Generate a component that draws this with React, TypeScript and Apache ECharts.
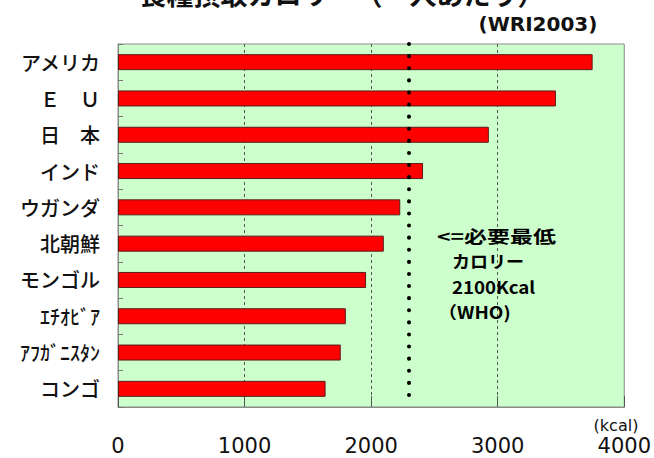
import React, { useEffect, useRef } from 'react';
import * as echarts from 'echarts';

// Daily calorie intake per person, by country (kcal)
const categories = [
  'アメリカ',
  'Ｅ　Ｕ',
  '日　本',
  'インド',
  'ウガンダ',
  '北朝鮮',
  'モンゴル',
  'ｴﾁｵﾋﾞｱ',
  'ｱﾌｶﾞﾆｽﾀﾝ',
  'コンゴ',
];
const calories = [3750, 3460, 2930, 2410, 2230, 2100, 1960, 1800, 1760, 1640];

// x-axis range and step
const axisMin = 0;
const axisMax = 4000;
const axisStep = 1000;

// dotted reference line position
const referenceLine = 2300;

const titleText = '食糧摂取カロリー（一人あたり）';
const sourceText = '(WRI2003)';
const unitText = '(kcal)';
const noteLines = ['<=必要最低', 'カロリー', '2100Kcal', '（WHO)'];

const JP = '"Noto Sans CJK JP", "Noto Sans CJK SC", sans-serif';
const LATIN = '"DejaVu Sans", Verdana, sans-serif';

export default function App() {
  const ref = useRef<HTMLDivElement>(null);

  useEffect(() => {
    if (!ref.current) return;
    const chart = echarts.init(ref.current, undefined, { renderer: 'svg' });

    // placement and horizontal stretch of each note line
    const notePos = [
      { x: 437, y: 236, sx: 1.35 },
      { x: 452, y: 261, sx: 1.06 },
      { x: 452, y: 286, sx: 1.1 },
      { x: 438, y: 311, sx: 1.12 },
    ];

    chart.setOption({
      animation: false,
      backgroundColor: '#ffffff',
      grid: {
        left: 118,
        right: 26,
        top: 44,
        bottom: 51,
        show: true,
        backgroundColor: '#ccffcc',
        borderColor: '#8a8a8a',
        borderWidth: 1,
      },
      xAxis: {
        type: 'value',
        min: axisMin,
        max: axisMax,
        interval: axisStep,
        axisLine: { show: true, lineStyle: { color: '#8a8a8a' } },
        axisTick: { show: true, inside: true, length: 11, lineStyle: { color: '#555' } },
        splitLine: {
          show: true,
          showMinLine: false,
          showMaxLine: false,
          lineStyle: { color: '#555', type: [3, 3], width: 1 },
        },
        axisLabel: {
          fontFamily: LATIN,
          fontSize: 21,
          color: '#111',
          margin: 28,
          formatter: (v: number) => String(v),
        },
      },
      yAxis: {
        type: 'category',
        data: categories,
        inverse: true,
        axisLine: { show: true, lineStyle: { color: '#8a8a8a' } },
        axisTick: { show: true, inside: true, length: 5, lineStyle: { color: '#777' } },
        axisLabel: { fontFamily: JP, fontSize: 20, fontWeight: 500, color: '#111', margin: 18 },
      },
      series: [
        {
          type: 'bar',
          data: calories,
          barWidth: 16,
          itemStyle: { color: '#ff0000', borderColor: '#5a1a1a', borderWidth: 1 },
          markLine: {
            silent: true,
            symbol: 'none',
            label: { show: false },
            lineStyle: { color: '#000', width: 4, type: [0.1, 12], cap: 'round' },
            data: [{ xAxis: referenceLine }],
          },
        },
      ],
      graphic: [
        {
          type: 'text',
          x: 342,
          y: -7,
          style: {
            text: titleText,
            font: `bold 27px ${JP}`,
            fill: '#111',
            align: 'center',
            verticalAlign: 'middle',
          },
        },
        {
          type: 'text',
          x: 538,
          y: 24,
          style: {
            text: sourceText,
            font: `bold 20px ${LATIN}`,
            fill: '#111',
            align: 'center',
            verticalAlign: 'middle',
          },
        },
        {
          type: 'text',
          x: 616,
          y: 425,
          style: {
            text: unitText,
            font: `16px ${LATIN}`,
            fill: '#111',
            align: 'center',
            verticalAlign: 'middle',
          },
        },
        ...noteLines.map((t, i) => ({
          type: 'text',
          x: notePos[i].x,
          y: notePos[i].y,
          scaleX: notePos[i].sx,
          z: 10,
          style: {
            text: t,
            font: `bold 17px ${JP}`,
            fill: '#000',
            align: 'left',
            verticalAlign: 'middle',
          },
        })),
      ],
    });

    return () => chart.dispose();
  }, []);

  return (
    <div
      ref={ref}
      style={{ position: 'absolute', left: 0, top: 0, width: 654, height: 458 }}
    />
  );
}
